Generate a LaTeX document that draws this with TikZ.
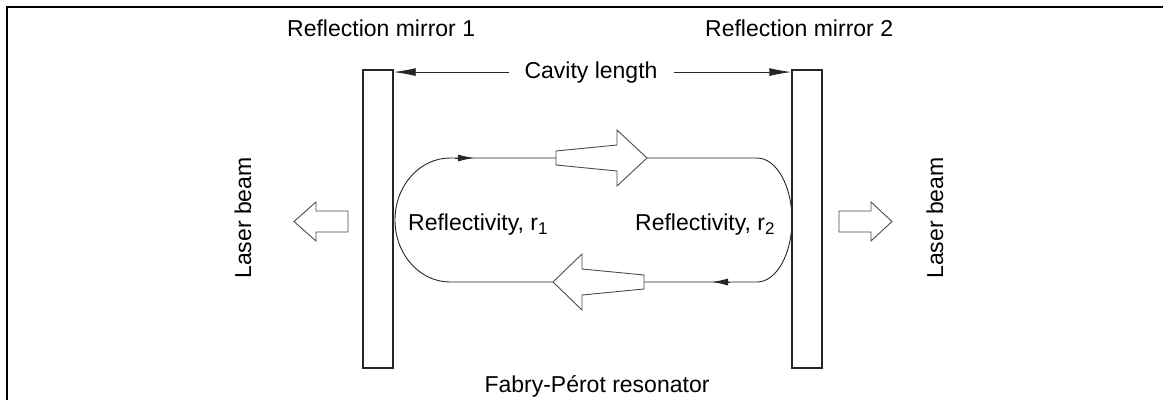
\documentclass[tikz,border=0pt]{standalone}
\usepackage{fontspec}
\setmainfont{Liberation Sans}
\usetikzlibrary{arrows.meta}
\newcommand{\mysub}[1]{\raisebox{-0.35ex}{\fontsize{17}{17}\selectfont #1}}
\begin{document}
\begin{tikzpicture}[x=1pt,y=-1pt,
  mirror/.style={draw=black!85,line width=1.4pt,minimum width=30pt,minimum height=298pt,inner sep=0pt},
  lbl/.style={font=\fontsize{23}{27}\selectfont,inner sep=0pt},
  beam/.style={draw=black!85,line width=0.9pt},
  hollow/.style={draw=black!70,line width=0.9pt,fill=white,line join=miter},
  looptip/.style={-{Latex[length=16pt,width=7pt]}},
  cavtip/.style={-{Latex[length=22pt,width=8pt]}}]
\useasboundingbox (0,0) rectangle (1163,400);
\draw[line width=1.5pt] (7,400) -- (7,7) -- (1163,7);

% mirrors
\node[mirror] (m1) at (378,219) {};
\node[mirror] (m2) at (807,219) {};

% labels
\node[lbl,anchor=base west] (t1) at (287,36) {Reflection mirror 1};
\node[lbl,anchor=base west] (t2) at (705,36) {Reflection mirror 2};
\node[lbl,anchor=base] (cav) at (591,78) {Cavity length};
\node[lbl,anchor=base west] (r1) at (408,230) {Reflectivity, r\mysub{1}};
\node[lbl,anchor=base west] (r2) at (635,230) {Reflectivity, r\mysub{2}};
\node[lbl,anchor=base] (fp) at (597,392) {Fabry-Pérot resonator};
\node[lbl,rotate=90] (lb1) at (243,218) {Laser beam};
\node[lbl,rotate=90] (lb2) at (935,218) {Laser beam};

% cavity length arrows
\draw[beam,cavtip] ([xshift=-15pt]cav.west) -- (cav.west -| m1.east);
\draw[beam,cavtip] ([xshift=16pt]cav.east) -- (cav.east -| m2.west);

% circulating beam
\draw[beam] (553,282) -- (450,282) arc[start angle=90,end angle=270,x radius=55,y radius=62] -- (556,158);
\draw[beam] (647,158) -- (757,158) arc[start angle=-90,end angle=90,x radius=35,y radius=62] -- (644,282);
\draw[beam,looptip] (455,158) -- (474,158);
\draw[beam,looptip] (730,282) -- (712,282);

% big hollow arrows inside cavity
\draw[hollow] (556,151) -- (617,145) -- (617,130) -- (647,158) -- (617,186) -- (617,171) -- (556,165) -- cycle;
\draw[hollow] (644,275) -- (582,269) -- (582,254) -- (553,282) -- (582,310) -- (582,295) -- (644,289) -- cycle;

% output beams
\draw[hollow] (348,211) -- (316,211) -- (316,202) -- (294,221.5) -- (316,241) -- (316,232) -- (348,232) -- cycle;
\draw[hollow] (839,211) -- (871,211) -- (871,202) -- (892,221.5) -- (871,241) -- (871,232) -- (839,232) -- cycle;
\end{tikzpicture}
\end{document}
